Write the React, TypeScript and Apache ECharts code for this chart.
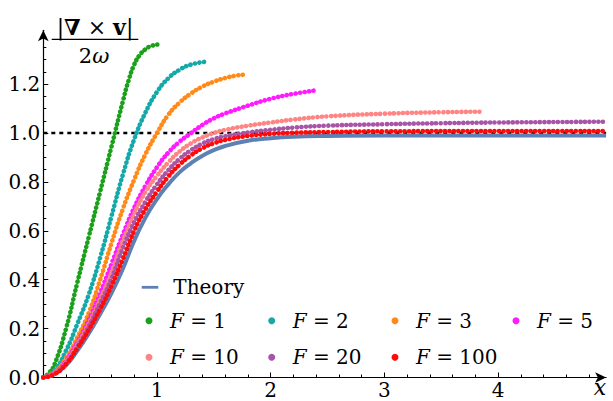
import React, { useEffect, useRef } from 'react';
import * as echarts from 'echarts';

const FONT = 'DejaVu Serif';

// Axis ticks
const xTickValues = [0, 1, 2, 3, 4];
const xTickLabels = [1, 2, 3, 4];
const yTickValues = [0, 0.2, 0.4, 0.6, 0.8, 1.0, 1.2];
const X_MAX = 4.95;
const Y_MAX = 1.42;
const referenceLevel = 1.0;

// Series names & colours
const seriesNames = ['Theory', 'F = 1', 'F = 2', 'F = 3', 'F = 5', 'F = 10', 'F = 20', 'F = 100'];
const seriesColors = ['#5E81B5', '#1AA01A', '#14A8A8', '#FF8A1A', '#FF1AFF', '#FF8484', '#A855A8', '#FF0A0A'];

// Theory
const theoryX = [0, 0.1, 0.2, 0.3, 0.4, 0.5, 0.6, 0.7, 0.8, 0.9, 1.0, 1.1, 1.2, 1.3, 1.4, 1.5, 1.6, 1.8, 2.0, 2.2, 2.5, 3.0, 4.0, 4.95];
const theoryY = [0, 0.013, 0.05, 0.11, 0.18, 0.26, 0.345, 0.445, 0.56, 0.655, 0.73, 0.79, 0.84, 0.877, 0.907, 0.93, 0.947, 0.968, 0.979, 0.985, 0.988, 0.99, 0.99, 0.99];

// F = 1
const f1X = [0, 0.05, 0.1, 0.2, 0.3, 0.4, 0.5, 0.6, 0.7, 0.75, 0.8, 0.85, 0.9, 0.95, 1.01];
const f1Y = [0, 0.018, 0.055, 0.2, 0.39, 0.575, 0.76, 0.945, 1.13, 1.215, 1.28, 1.32, 1.343, 1.356, 1.362];

// F = 2
const f2X = [0, 0.1, 0.2, 0.3, 0.4, 0.5, 0.6, 0.7, 0.8, 0.9, 1.0, 1.1, 1.2, 1.3, 1.437];
const f2Y = [0, 0.03, 0.11, 0.22, 0.34, 0.49, 0.66, 0.83, 0.975, 1.085, 1.168, 1.224, 1.259, 1.28, 1.292];

// F = 3
const f3X = [0, 0.1, 0.2, 0.3, 0.4, 0.5, 0.6, 0.7, 0.8, 0.9, 1.0, 1.1, 1.2, 1.3, 1.4, 1.5, 1.6, 1.7, 1.789];
const f3Y = [0, 0.022, 0.08, 0.165, 0.265, 0.4, 0.55, 0.69, 0.81, 0.915, 1.0, 1.075, 1.125, 1.162, 1.19, 1.21, 1.225, 1.235, 1.24];

// F = 5
const f5X = [0, 0.1, 0.2, 0.3, 0.4, 0.5, 0.6, 0.7, 0.8, 0.9, 1.0, 1.1, 1.2, 1.3, 1.4, 1.5, 1.6, 1.8, 2.0, 2.2, 2.39];
const f5Y = [0, 0.018, 0.068, 0.145, 0.235, 0.345, 0.465, 0.585, 0.695, 0.785, 0.86, 0.92, 0.965, 1.0, 1.033, 1.06, 1.08, 1.112, 1.14, 1.16, 1.174];

// F = 10
const f10X = [0, 0.1, 0.2, 0.3, 0.4, 0.5, 0.6, 0.7, 0.8, 0.9, 1.0, 1.1, 1.2, 1.3, 1.4, 1.5, 1.6, 1.8, 2.0, 2.2, 2.5, 3.0, 3.5, 3.87];
const f10Y = [0, 0.016, 0.062, 0.135, 0.22, 0.32, 0.43, 0.56, 0.67, 0.76, 0.825, 0.88, 0.925, 0.958, 0.982, 1.0, 1.013, 1.03, 1.043, 1.055, 1.068, 1.079, 1.085, 1.087];

// F = 20
const f20X = [0, 0.1, 0.2, 0.3, 0.4, 0.5, 0.6, 0.7, 0.8, 0.9, 1.0, 1.1, 1.2, 1.3, 1.4, 1.5, 1.6, 1.8, 2.0, 2.2, 2.5, 3.0, 3.5, 4.0, 4.95];
const f20Y = [0, 0.015, 0.058, 0.127, 0.21, 0.305, 0.405, 0.53, 0.635, 0.72, 0.79, 0.848, 0.895, 0.93, 0.957, 0.975, 0.987, 1.002, 1.013, 1.022, 1.03, 1.036, 1.04, 1.043, 1.046];

// F = 100
const f100X = [0, 0.1, 0.2, 0.3, 0.4, 0.5, 0.6, 0.7, 0.8, 0.9, 1.0, 1.1, 1.2, 1.3, 1.4, 1.5, 1.6, 1.8, 2.0, 2.2, 2.5, 3.0, 4.0, 4.95];
const f100Y = [0, 0.014, 0.055, 0.12, 0.195, 0.28, 0.375, 0.485, 0.6, 0.69, 0.76, 0.822, 0.871, 0.909, 0.938, 0.958, 0.972, 0.988, 0.996, 1.001, 1.004, 1.007, 1.008, 1.008];

const dotXs = [f1X, f2X, f3X, f5X, f10X, f20X, f100X];
const dotYs = [f1Y, f2Y, f3Y, f5Y, f10Y, f20Y, f100Y];

const zip = (xs: number[], ys: number[]) => xs.map((x, i) => [x, ys[i]]);

const xMinor: number[] = [];
for (let i = 1; i < 25; i++) if (i % 5 !== 0) xMinor.push(Math.round(i * 20) / 100);
const yMinor: number[] = [];
for (let i = 1; i < 28; i++) if (i % 4 !== 0) yMinor.push(Math.round(i * 5) / 100);

// legend placement (dot centres)
const legendCols = [149, 271.7, 395, 516];
const legendRows = [320.7, 357.3];

export default function App() {
  const ref = useRef<HTMLDivElement>(null);
  useEffect(() => {
    if (!ref.current) return;
    const chart = echarts.init(ref.current, undefined, { renderer: 'svg' });
    const axisLineStyle = { color: '#000', width: 1.2 };
    const tickStyle = { color: '#000', width: 1 };
    const labelStyle = { fontFamily: FONT, fontSize: 20, color: '#000' };

    const legendText = {
      fontFamily: FONT,
      fontSize: 20,
      lineHeight: 22,
      color: '#000',
      padding: [0, 0, 0, 12.5],
      rich: {
        i: { fontFamily: FONT, fontSize: 20, lineHeight: 22, fontStyle: 'italic', color: '#000' },
      },
    };
    const legendFormatter = (name: string) => {
      if (name === 'Theory') return name;
      return '{i|F} = ' + name.replace('F = ', '');
    };

    const legends: any[] = [
      {
        data: ['Theory'],
        left: 141.7,
        top: 287.3 - 11,
        padding: 0,
        icon: 'rect',
        itemWidth: 16.6,
        itemHeight: 2.8,
        selectedMode: false,
        formatter: legendFormatter,
        textStyle: { ...legendText, padding: [0, 0, 0, 10] },
      },
    ];
    seriesNames.slice(1).forEach((name, i) => {
      const row = i < 4 ? 0 : 1;
      const col = i < 4 ? i : i - 4;
      legends.push({
        data: [name],
        left: legendCols[col] - 3.5,
        top: legendRows[row] - 11,
        padding: 0,
        icon: 'circle',
        itemWidth: 7,
        itemHeight: 7,
        selectedMode: false,
        formatter: legendFormatter,
        textStyle: legendText,
      });
    });

    const series: any[] = [
      {
        type: 'line',
        name: 'ref',
        data: [[0, referenceLevel], [X_MAX, referenceLevel]],
        showSymbol: false,
        symbol: 'none',
        silent: true,
        lineStyle: { color: '#000', width: 2.6, type: [4, 4] },
        z: 1,
      },
      {
        type: 'line',
        name: seriesNames[0],
        data: zip(theoryX, theoryY),
        smooth: 0.5,
        showSymbol: false,
        symbol: 'none',
        silent: true,
        lineStyle: { color: seriesColors[0], width: 4 },
        itemStyle: { color: seriesColors[0] },
        z: 2,
      },
    ];
    dotXs.forEach((xs, i) => {
      series.push({
        type: 'line',
        name: seriesNames[i + 1],
        data: zip(xs, dotYs[i]),
        smooth: 0.5,
        showSymbol: false,
        symbol: 'none',
        silent: true,
        lineStyle: { color: seriesColors[i + 1], width: 4.6, type: [0.1, 4.4], cap: 'round' },
        itemStyle: { color: seriesColors[i + 1] },
        z: 3,
      });
    });

    chart.setOption({
      animation: false,
      grid: { left: 43.3, right: 613 - (43.3 + 113.7 * X_MAX), top: 377.5 - 244.5 * Y_MAX, bottom: 23.5 },
      xAxis: [
        {
          type: 'value',
          min: 0,
          max: X_MAX,
          axisLine: { show: true, symbol: ['none', 'arrow'], symbolSize: [8, 11], lineStyle: axisLineStyle },
          axisTick: { show: true, inside: true, length: 5, customValues: xTickValues, lineStyle: tickStyle },
          axisLabel: { customValues: xTickLabels, margin: 2, ...labelStyle },
          splitLine: { show: false },
        },
        {
          type: 'value',
          min: 0,
          max: X_MAX,
          position: 'bottom',
          axisLine: { show: false },
          axisTick: { show: true, inside: true, length: 3, customValues: xMinor, lineStyle: tickStyle },
          axisLabel: { show: false },
          splitLine: { show: false },
        },
      ],
      yAxis: [
        {
          type: 'value',
          min: 0,
          max: Y_MAX,
          axisLine: { show: true, symbol: ['none', 'arrow'], symbolSize: [8, 11], lineStyle: axisLineStyle },
          axisTick: { show: true, inside: true, length: 5, customValues: yTickValues, lineStyle: tickStyle },
          axisLabel: {
            customValues: yTickValues,
            margin: 3,
            formatter: (v: number) => v.toFixed(1),
            ...labelStyle,
          },
          splitLine: { show: false },
        },
        {
          type: 'value',
          min: 0,
          max: Y_MAX,
          position: 'left',
          axisLine: { show: false },
          axisTick: { show: true, inside: true, length: 3, customValues: yMinor, lineStyle: tickStyle },
          axisLabel: { show: false },
          splitLine: { show: false },
        },
      ],
      legend: legends,
      series,
      graphic: [
        {
          type: 'text',
          x: 95,
          y: 27,
          style: {
            text: '|{b|∇} × {b|v}|',
            fontFamily: FONT,
            fontSize: 22,
            fill: '#000',
            align: 'center',
            verticalAlign: 'middle',
            rich: {
              b: { fontFamily: FONT, fontSize: 22, fontWeight: 'bold', fill: '#000' },
            },
          },
        },
        {
          type: 'line',
          shape: { x1: 51.7, y1: 39.3, x2: 138.3, y2: 39.3 },
          style: { stroke: '#000', lineWidth: 1.2 },
        },
        {
          type: 'text',
          x: 94,
          y: 56,
          style: {
            text: '2{i|ω}',
            fontFamily: FONT,
            fontSize: 21,
            fill: '#000',
            align: 'center',
            verticalAlign: 'middle',
            rich: { i: { fontFamily: FONT, fontSize: 21, fontStyle: 'italic', fill: '#000' } },
          },
        },
        {
          type: 'text',
          x: 600,
          y: 387,
          style: {
            text: 'x',
            fontFamily: FONT,
            fontSize: 22,
            fontStyle: 'italic',
            fill: '#000',
            align: 'center',
            verticalAlign: 'middle',
          },
        },
      ],
    });
    return () => chart.dispose();
  }, []);
  return (
    <div
      ref={ref}
      style={{ position: 'fixed', left: 0, top: 0, width: 613, height: 401, background: '#fff' }}
    />
  );
}
